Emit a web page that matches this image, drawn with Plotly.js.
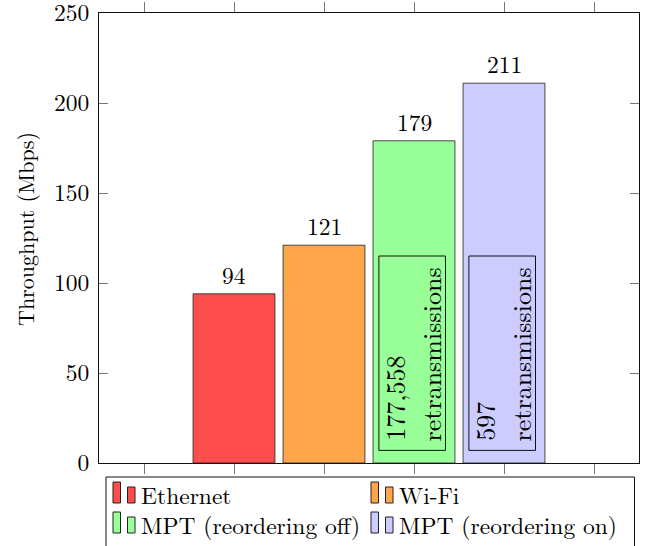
<!DOCTYPE html>
<html>
<head>
<meta charset="utf-8">
<script src="https://cdn.plot.ly/plotly-3.0.1.min.js"></script>
<style>html,body{margin:0;padding:0;background:#fff;}#chart{width:649px;height:546px;}</style>
</head>
<body>
<div id="chart"></div>
<script>
// ---- data ----
const seriesNames = ["Ethernet", "Wi-Fi", "MPT (reordering off)", "MPT (reordering on)"];
const seriesX = [1, 2, 3, 4];
const throughput = [94, 121, 179, 211];
const seriesColors = ["#FF4D4D", "#FFA64D", "#99FF99", "#CCCCFF"];
const retransCounts = [null, null, "177,558", "597"];
const retransWord = "retransmissions";
const yTicks = [0, 50, 100, 150, 200, 250];
const xTicks = [0, 1, 2, 3, 4, 5];
const yTitle = "Throughput (Mbps)";

const FONT = "Latin Modern Roman, Liberation Serif, serif";

// plot area geometry (pixels)
const L = 99, R = 10, T = 13, B = 83, W = 649, H = 546;
const PW = W - L - R, PH = H - T - B;
const px2x = p => (p - L) / PW;
const py2y = p => (H - B - p) / PH;

const traces = seriesNames.map((n, i) => ({
  type: "bar",
  name: n,
  x: [seriesX[i]],
  y: [throughput[i]],
  width: 0.91,
  marker: {color: seriesColors[i], line: {color: "#222", width: 0.8}},
  hoverinfo: "x+y",
  showlegend: false
}));

const annotations = [];
const shapes = [];

// value labels
throughput.forEach((v, i) => {
  annotations.push({
    x: seriesX[i], y: v, xref: "x", yref: "y",
    text: String(v), showarrow: false,
    xanchor: "center", yanchor: "bottom", yshift: 1,
    font: {family: FONT, size: 23.5, color: "#000"}
  });
});

// retransmission boxes
retransCounts.forEach((c, i) => {
  if (c === null) return;
  const xc = seriesX[i];
  shapes.push({
    type: "rect", xref: "x", yref: "y",
    x0: xc - 0.39, x1: xc + 0.35, y0: 7, y1: 115,
    line: {color: "#111", width: 1}, fillcolor: "rgba(0,0,0,0)"
  });
  annotations.push({
    x: xc - 0.21, y: 11, xref: "x", yref: "y",
    text: c, textangle: -90, showarrow: false,
    xanchor: "center", yanchor: "bottom",
    font: {family: FONT, size: 26, color: "#000"}
  });
  annotations.push({
    x: xc + 0.18, y: 11, xref: "x", yref: "y",
    text: retransWord, textangle: -90, showarrow: false,
    xanchor: "center", yanchor: "bottom",
    font: {family: FONT, size: 26, color: "#000"}
  });
});

// y title
annotations.push({
  x: px2x(24), y: py2y(229), xref: "paper", yref: "paper",
  text: yTitle, textangle: -90, showarrow: false,
  xanchor: "center", yanchor: "middle",
  font: {family: FONT, size: 22, color: "#000"}
});

// manual legend
shapes.push({
  type: "rect", xref: "paper", yref: "paper",
  x0: px2x(106), x1: px2x(634.5), y0: py2y(600), y1: py2y(477),
  line: {color: "#111", width: 1}, fillcolor: "rgba(0,0,0,0)"
});
const colX = [113, 371];
const rowBottom = [503, 533];
seriesNames.forEach((n, i) => {
  const cx = colX[i % 2], rb = rowBottom[Math.floor(i / 2)];
  shapes.push({
    type: "rect", xref: "paper", yref: "paper",
    x0: px2x(cx), x1: px2x(cx + 7.5), y0: py2y(rb), y1: py2y(rb - 21),
    line: {color: "#222", width: 1}, fillcolor: seriesColors[i]
  });
  shapes.push({
    type: "rect", xref: "paper", yref: "paper",
    x0: px2x(cx + 14.5), x1: px2x(cx + 22), y0: py2y(rb), y1: py2y(rb - 16),
    line: {color: "#222", width: 1}, fillcolor: seriesColors[i]
  });
  annotations.push({
    x: px2x(cx + 26), y: py2y(rb - 9), xref: "paper", yref: "paper",
    text: n, showarrow: false, xanchor: "left", yanchor: "middle",
    font: {family: FONT, size: 23.5, color: "#000"}
  });
});

const layout = {
  width: W, height: H,
  margin: {l: L, r: R, t: T, b: B, pad: 0},
  paper_bgcolor: "#fff", plot_bgcolor: "#fff",
  barmode: "overlay",
  showlegend: false,
  font: {family: FONT, size: 23, color: "#000"},
  xaxis: {
    range: [-0.5, 5.5], tickvals: xTicks, showticklabels: false,
    ticks: "outside", ticklen: 10, tickcolor: "#777", tickwidth: 1,
    showline: true, linecolor: "#111", linewidth: 1, mirror: "ticks",
    showgrid: false, zeroline: false, fixedrange: true
  },
  yaxis: {
    range: [0, 250], tickvals: yTicks,
    ticks: "inside", ticklen: 9, tickcolor: "#777", tickwidth: 1,
    showline: true, linecolor: "#111", linewidth: 1, mirror: "ticks",
    showgrid: false, zeroline: false, fixedrange: true,
    ticklabelstandoff: 4, ticklabeloverflow: "allow",
    tickfont: {family: FONT, size: 23.5, color: "#000"}
  },
  annotations: annotations,
  shapes: shapes
};

Plotly.newPlot("chart", traces, layout, {displayModeBar: false, staticPlot: true});
</script>
</body>
</html>
